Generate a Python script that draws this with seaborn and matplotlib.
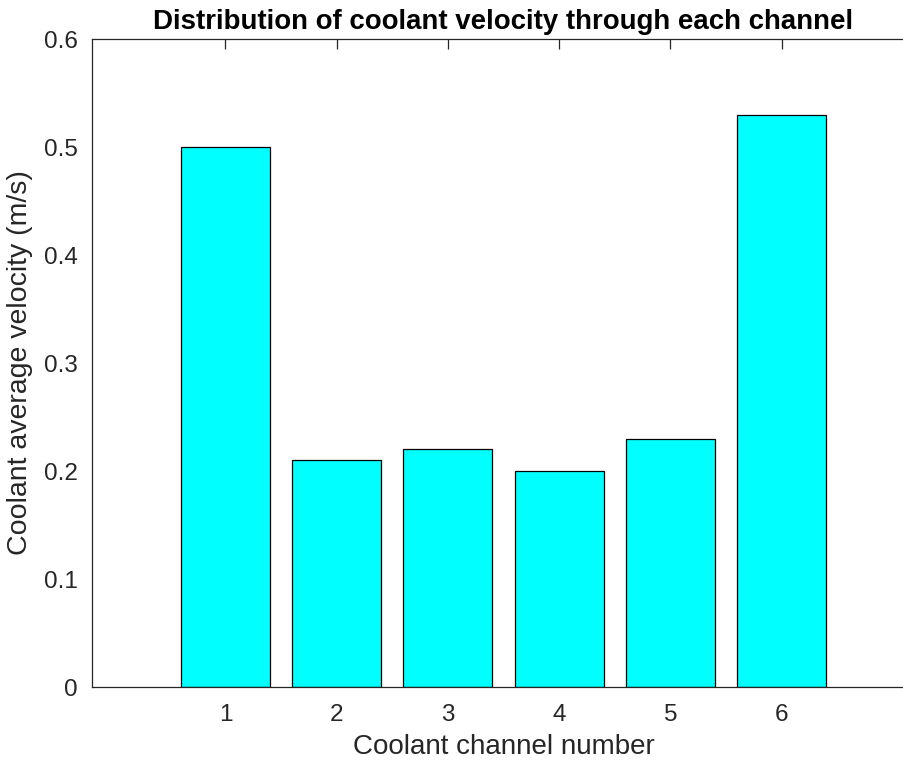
import matplotlib
matplotlib.use("Agg")
import matplotlib.pyplot as plt
import seaborn as sns
import pandas as pd

channels = [1, 2, 3, 4, 5, 6]
velocity = [0.50, 0.21, 0.22, 0.20, 0.23, 0.53]
yticks = [0, 0.1, 0.2, 0.3, 0.4, 0.5, 0.6]
ytick_labels = ["0", "0.1", "0.2", "0.3", "0.4", "0.5", "0.6"]

sns.set_style("white")
plt.rcParams['font.family'] = ['Liberation Sans', 'DejaVu Sans']

df = pd.DataFrame({"channel": channels, "velocity": velocity})

fig = plt.figure(figsize=(9.04, 7.66), dpi=100)
ax = fig.add_axes([92/904, 79/766, (915-92)/904, (687-39)/766])
sns.barplot(data=df, x="channel", y="velocity", native_scale=True, width=0.8,
            color=(0, 1, 1), saturation=1, edgecolor="black", linewidth=0.9, ax=ax)
for p in ax.patches:
    p.set_facecolor((0, 1, 1))

ax.set_xlim(-0.2, 7.2)
ax.set_ylim(0, 0.6)
ax.set_xticks(channels)
ax.set_xticklabels([str(c) for c in channels])
ax.set_yticks(yticks)
ax.set_yticklabels(ytick_labels)

for s in ["left", "bottom", "top"]:
    ax.spines[s].set_visible(True)
    ax.spines[s].set_color("#262626")
    ax.spines[s].set_linewidth(0.9)
ax.spines["right"].set_visible(False)

ax.tick_params(axis="both", direction="in", length=7, width=0.9, color="#262626",
               labelsize=17.5, labelcolor="#262626", top=True, right=False)
ax.tick_params(axis="x", pad=12)
ax.tick_params(axis="y", pad=10)

ax.set_xlabel("Coolant channel number", fontsize=20, color="#262626", labelpad=6)
ax.set_ylabel("Coolant average velocity (m/s)", fontsize=20.5, color="#262626", labelpad=8)
ax.set_title("Distribution of coolant velocity through each channel", fontsize=19.9,
             fontweight="bold", color="black", pad=7, x=(503-92)/(915-92))

fig.savefig("out.png", dpi=100)
